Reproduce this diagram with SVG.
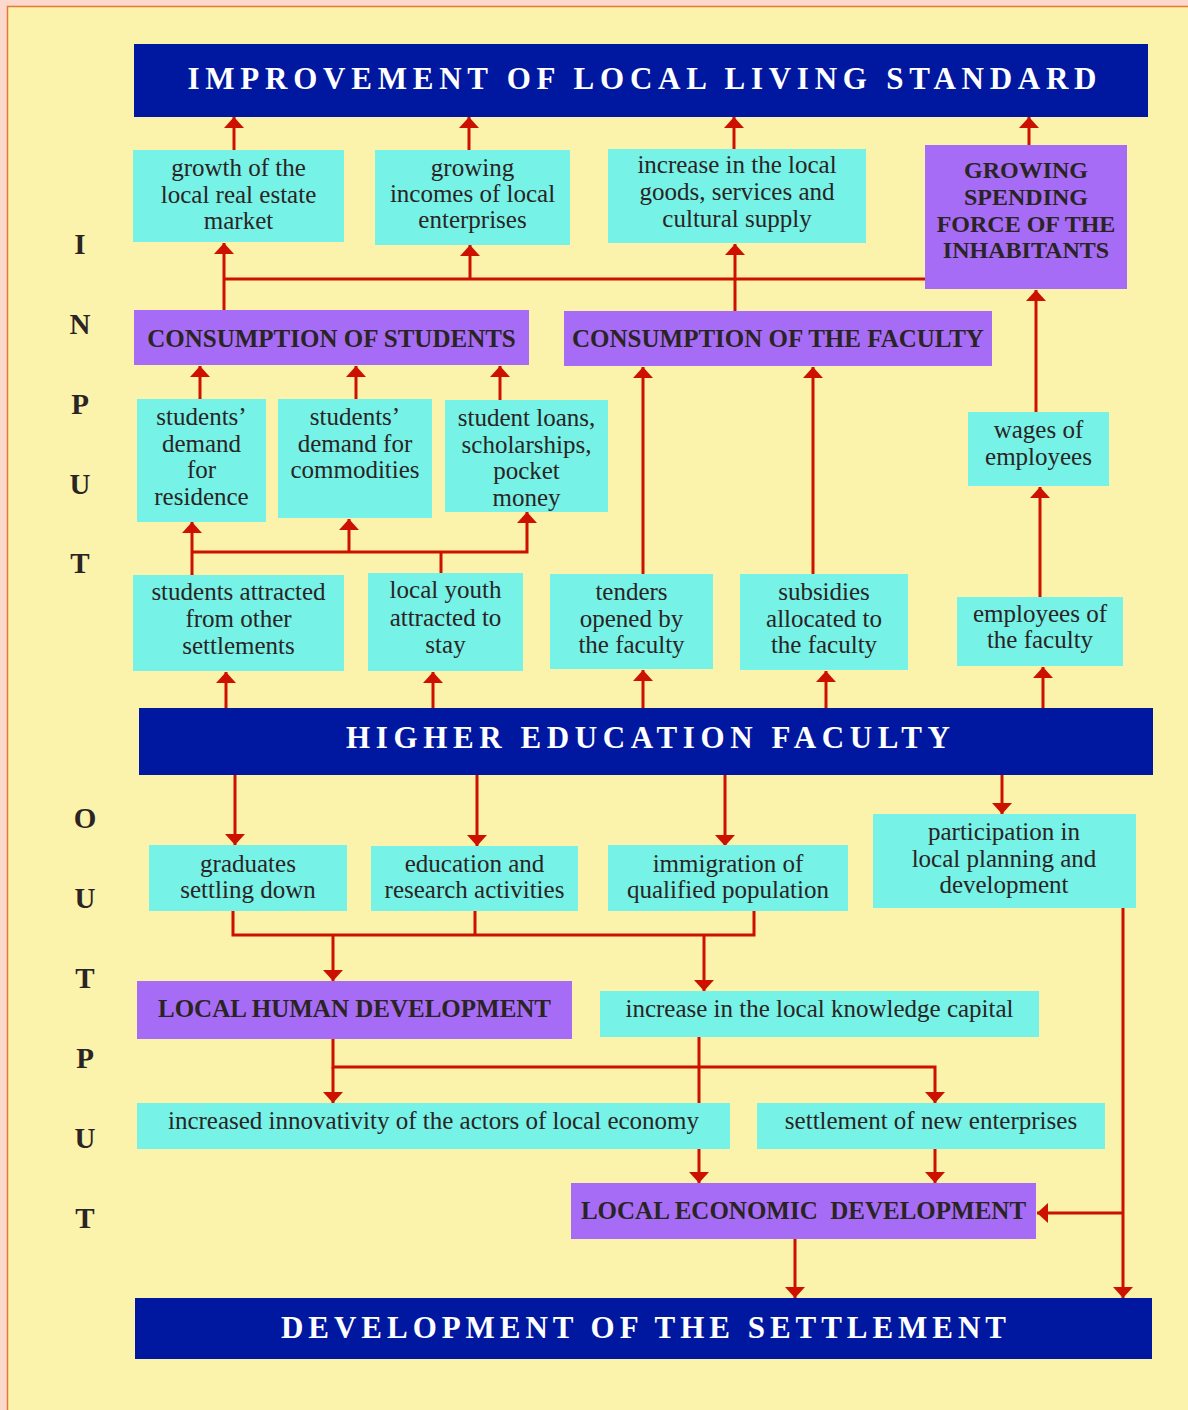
<svg xmlns="http://www.w3.org/2000/svg" width="1188" height="1410" viewBox="0 0 1188 1410">
<defs>
<style>
.t{font-family:"Liberation Serif","Times New Roman",serif;font-size:25px;fill:#2a2424;text-anchor:middle}
.b{font-family:"Liberation Serif","Times New Roman",serif;font-size:25px;font-weight:bold;fill:#2a2424;text-anchor:middle}
.ban{font-family:"Liberation Serif","Times New Roman",serif;font-size:31px;font-weight:bold;fill:#ffffff;text-anchor:middle}
.side{font-family:"Liberation Serif","Times New Roman",serif;font-size:29px;font-weight:bold;fill:#2a2424;text-anchor:middle}
.cy{fill:#76f2e6}
.pu{fill:#a66cf5}
.nv{fill:#0018a0}
.c path{fill:none;stroke:#cc1100;stroke-width:3}
</style>
<marker id="ah" viewBox="0 0 11 20" refX="11" refY="10" markerWidth="11" markerHeight="20" markerUnits="userSpaceOnUse" orient="auto">
<path d="M0,0 L11,10 L0,20 Z" fill="#cc1100"/>
</marker>
</defs>
<rect x="0" y="0" width="1188" height="1410" fill="#fcd9cc"/>
<rect x="7.5" y="6.5" width="1200" height="1420" fill="#fbf3ab" stroke="#e07a3a" stroke-width="1.5"/>

<g id="side-labels">
<text class="side" x="80" y="254">I</text>
<text class="side" x="80" y="334">N</text>
<text class="side" x="80" y="414">P</text>
<text class="side" x="80" y="494">U</text>
<text class="side" x="80" y="573">T</text>
<text class="side" x="85" y="828">O</text>
<text class="side" x="85" y="908">U</text>
<text class="side" x="85" y="988">T</text>
<text class="side" x="85" y="1068">P</text>
<text class="side" x="85" y="1148">U</text>
<text class="side" x="85" y="1228">T</text>
</g>

<g id="connectors" class="c">
<path d="M234,150 V117" marker-end="url(#ah)"/>
<path d="M469,150 V117" marker-end="url(#ah)"/>
<path d="M734,149 V117" marker-end="url(#ah)"/>
<path d="M1029,145 V117" marker-end="url(#ah)"/>
<path d="M224,310 V243" marker-end="url(#ah)"/>
<path d="M224,279 H925"/>
<path d="M470,279 V245" marker-end="url(#ah)"/>
<path d="M735,311 V244" marker-end="url(#ah)"/>
<path d="M200,399 V366" marker-end="url(#ah)"/>
<path d="M356,399 V366" marker-end="url(#ah)"/>
<path d="M500,400 V366" marker-end="url(#ah)"/>
<path d="M192,575 V522" marker-end="url(#ah)"/>
<path d="M192,552 H527 V512" marker-end="url(#ah)"/>
<path d="M349,552 V519" marker-end="url(#ah)"/>
<path d="M441,573 V552"/>
<path d="M643,574 V367" marker-end="url(#ah)"/>
<path d="M813,574 V367" marker-end="url(#ah)"/>
<path d="M1036,412 V290" marker-end="url(#ah)"/>
<path d="M1040,597 V487" marker-end="url(#ah)"/>
<path d="M226,708 V672" marker-end="url(#ah)"/>
<path d="M433,708 V672" marker-end="url(#ah)"/>
<path d="M643,708 V670" marker-end="url(#ah)"/>
<path d="M826,708 V671" marker-end="url(#ah)"/>
<path d="M1043,708 V667" marker-end="url(#ah)"/>
<path d="M235,775 V845" marker-end="url(#ah)"/>
<path d="M477,775 V846" marker-end="url(#ah)"/>
<path d="M725,775 V846" marker-end="url(#ah)"/>
<path d="M1002,775 V814" marker-end="url(#ah)"/>
<path d="M233,911 V935 H754 V911"/>
<path d="M475,911 V935"/>
<path d="M333,935 V981" marker-end="url(#ah)"/>
<path d="M704,935 V991" marker-end="url(#ah)"/>
<path d="M1123,908 V1298" marker-end="url(#ah)"/>
<path d="M1123,1213 H1037" marker-end="url(#ah)"/>
<path d="M333,1039 V1067 H935 V1103" marker-end="url(#ah)"/>
<path d="M333,1067 V1103" marker-end="url(#ah)"/>
<path d="M699,1037 V1183" marker-end="url(#ah)"/>
<path d="M935,1149 V1183" marker-end="url(#ah)"/>
<path d="M795,1239 V1298" marker-end="url(#ah)"/>
</g>

<g id="improvement">
<rect class="nv" x="134" y="44" width="1014" height="73"/>
<text class="ban" x="642" y="89" textLength="909" lengthAdjust="spacing">IMPROVEMENT OF LOCAL LIVING STANDARD</text>
</g>
<g id="real-estate">
<rect class="cy" x="133" y="150" width="211" height="92"/>
<text class="t" x="238.5" y="176">growth of the</text>
<text class="t" x="238.5" y="203">local real estate</text>
<text class="t" x="238.5" y="229">market</text>
</g>
<g id="incomes">
<rect class="cy" x="375" y="150" width="195" height="95"/>
<text class="t" x="472.5" y="176">growing</text>
<text class="t" x="472.5" y="202">incomes of local</text>
<text class="t" x="472.5" y="228">enterprises</text>
</g>
<g id="supply">
<rect class="cy" x="608" y="149" width="258" height="94"/>
<text class="t" x="737" y="173">increase in the local</text>
<text class="t" x="737" y="200">goods, services and</text>
<text class="t" x="737" y="227">cultural supply</text>
</g>
<g id="spending">
<rect class="pu" x="925" y="145" width="202" height="144"/>
<text class="b" x="1026" y="178" style="font-size:24px">GROWING</text>
<text class="b" x="1026" y="205" style="font-size:24px">SPENDING</text>
<text class="b" x="1026" y="232" style="font-size:24px">FORCE OF THE</text>
<text class="b" x="1026" y="258" style="font-size:24px">INHABITANTS</text>
</g>
<g id="consumption-students">
<rect class="pu" x="134" y="310" width="395" height="55"/>
<text class="b" x="331.5" y="347">CONSUMPTION OF STUDENTS</text>
</g>
<g id="consumption-faculty">
<rect class="pu" x="564" y="311" width="428" height="55"/>
<text class="b" x="778" y="347">CONSUMPTION OF THE FACULTY</text>
</g>
<g id="residence">
<rect class="cy" x="137" y="399" width="129" height="123"/>
<text class="t" x="201.5" y="425">students’</text>
<text class="t" x="201.5" y="452">demand</text>
<text class="t" x="201.5" y="478">for</text>
<text class="t" x="201.5" y="505">residence</text>
</g>
<g id="commodities">
<rect class="cy" x="278" y="399" width="154" height="119"/>
<text class="t" x="355" y="425">students’</text>
<text class="t" x="355" y="452">demand for</text>
<text class="t" x="355" y="478">commodities</text>
</g>
<g id="loans">
<rect class="cy" x="445" y="400" width="163" height="112"/>
<text class="t" x="526.5" y="426">student loans,</text>
<text class="t" x="526.5" y="453">scholarships,</text>
<text class="t" x="526.5" y="479">pocket</text>
<text class="t" x="526.5" y="506">money</text>
</g>
<g id="wages">
<rect class="cy" x="968" y="412" width="141" height="74"/>
<text class="t" x="1038.5" y="438">wages of</text>
<text class="t" x="1038.5" y="465">employees</text>
</g>
<g id="students-attracted">
<rect class="cy" x="133" y="575" width="211" height="96"/>
<text class="t" x="238.5" y="600">students attracted</text>
<text class="t" x="238.5" y="627">from other</text>
<text class="t" x="238.5" y="654">settlements</text>
</g>
<g id="local-youth">
<rect class="cy" x="368" y="573" width="155" height="98"/>
<text class="t" x="445.5" y="598">local youth</text>
<text class="t" x="445.5" y="626">attracted to</text>
<text class="t" x="445.5" y="653">stay</text>
</g>
<g id="tenders">
<rect class="cy" x="550" y="574" width="163" height="95"/>
<text class="t" x="631.5" y="600">tenders</text>
<text class="t" x="631.5" y="627">opened by</text>
<text class="t" x="631.5" y="653">the faculty</text>
</g>
<g id="subsidies">
<rect class="cy" x="740" y="574" width="168" height="96"/>
<text class="t" x="824" y="600">subsidies</text>
<text class="t" x="824" y="627">allocated to</text>
<text class="t" x="824" y="653">the faculty</text>
</g>
<g id="employees">
<rect class="cy" x="957" y="597" width="166" height="69"/>
<text class="t" x="1040" y="622">employees of</text>
<text class="t" x="1040" y="648">the faculty</text>
</g>
<g id="faculty">
<rect class="nv" x="139" y="708" width="1014" height="67"/>
<text class="ban" x="648" y="748" textLength="604" lengthAdjust="spacing">HIGHER EDUCATION FACULTY</text>
</g>
<g id="graduates">
<rect class="cy" x="149" y="845" width="198" height="66"/>
<text class="t" x="248" y="872">graduates</text>
<text class="t" x="248" y="898">settling down</text>
</g>
<g id="education">
<rect class="cy" x="371" y="846" width="207" height="65"/>
<text class="t" x="474.5" y="872">education and</text>
<text class="t" x="474.5" y="898">research activities</text>
</g>
<g id="immigration">
<rect class="cy" x="608" y="845" width="240" height="66"/>
<text class="t" x="728" y="872">immigration of</text>
<text class="t" x="728" y="898">qualified population</text>
</g>
<g id="participation">
<rect class="cy" x="873" y="814" width="263" height="94"/>
<text class="t" x="1004" y="840">participation in</text>
<text class="t" x="1004" y="867">local planning and</text>
<text class="t" x="1004" y="893">development</text>
</g>
<g id="human-development">
<rect class="pu" x="137" y="981" width="435" height="58"/>
<text class="b" x="354.5" y="1017">LOCAL HUMAN DEVELOPMENT</text>
</g>
<g id="knowledge-capital">
<rect class="cy" x="600" y="991" width="439" height="46"/>
<text class="t" x="819.5" y="1017">increase in the local knowledge capital</text>
</g>
<g id="innovativity">
<rect class="cy" x="137" y="1103" width="593" height="46"/>
<text class="t" x="433.5" y="1129">increased innovativity of the actors of local economy</text>
</g>
<g id="new-enterprises">
<rect class="cy" x="757" y="1103" width="348" height="46"/>
<text class="t" x="931" y="1129">settlement of new enterprises</text>
</g>
<g id="economic-development">
<rect class="pu" x="571" y="1183" width="465" height="56"/>
<text class="b" x="803.5" y="1219" style="white-space:pre">LOCAL ECONOMIC  DEVELOPMENT</text>
</g>
<g id="settlement-development">
<rect class="nv" x="135" y="1298" width="1017" height="61"/>
<text class="ban" x="643.5" y="1338" textLength="725" lengthAdjust="spacing">DEVELOPMENT OF THE SETTLEMENT</text>
</g>
</svg>
